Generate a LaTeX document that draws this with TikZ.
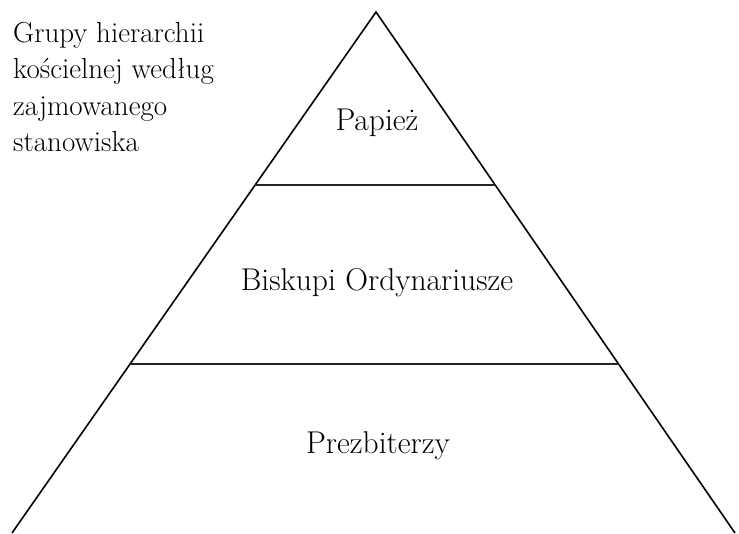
\documentclass[tikz,border=0pt]{standalone}
\usepackage{tikz}
\usetikzlibrary{positioning,backgrounds}
\pgfdeclarelayer{edgelayer}
\pgfdeclarelayer{nodelayer}
\pgfsetlayers{background,edgelayer,nodelayer,main}
\tikzstyle{none}=[inner sep=0mm]
\tikzstyle{tier label}=[inner sep=0mm,anchor=base,font=\fontsize{31.5}{34}\selectfont]
\tikzstyle{caption}=[inner sep=0mm,anchor=base west,font=\fontsize{29}{36}\selectfont]
\tikzstyle{side}=[line width=1.6pt]
\tikzstyle{tier}=[line width=1.5pt,draw=black!85]

\begin{document}
\begin{tikzpicture}[x=1pt,y=-1pt]
	\useasboundingbox (0,0) rectangle (739,533);
	\begin{pgfonlayer}{nodelayer}
		\node [style=none] (apex) at (376, 12) {};
		\node [style=none] (bl) at (12, 533) {};
		\node [style=none] (br) at (735, 533) {};
		\node [style=none] (l1) at (255, 185) {};
		\node [style=none] (r1) at (495, 185) {};
		\node [style=none] (l2) at (130, 364) {};
		\node [style=none] (r2) at (618.5, 364) {};
		\node [style={tier label}] (pope) at (377, 130) {Papież};
		\node [style={tier label}] (bishops) at (377, 290) {Biskupi Ordynariusze};
		\node [style={tier label}] (priests) at (378, 453) {Prezbiterzy};
		\node [style=caption] (title1) at (13, 42) {Grupy hierarchii};
		\node [style=caption] (title2) at (13, 78) {kościelnej według};
		\node [style=caption] (title3) at (13, 115) {zajmowanego};
		\node [style=caption] (title4) at (13, 151) {stanowiska};
	\end{pgfonlayer}
	\begin{pgfonlayer}{edgelayer}
		\draw [style=side] (bl.center) to (apex.center) to (br.center);
		\draw [style=tier] (l1.center) to (r1.center);
		\draw [style=tier] (l2.center) to (r2.center);
	\end{pgfonlayer}
\end{tikzpicture}
\end{document}
